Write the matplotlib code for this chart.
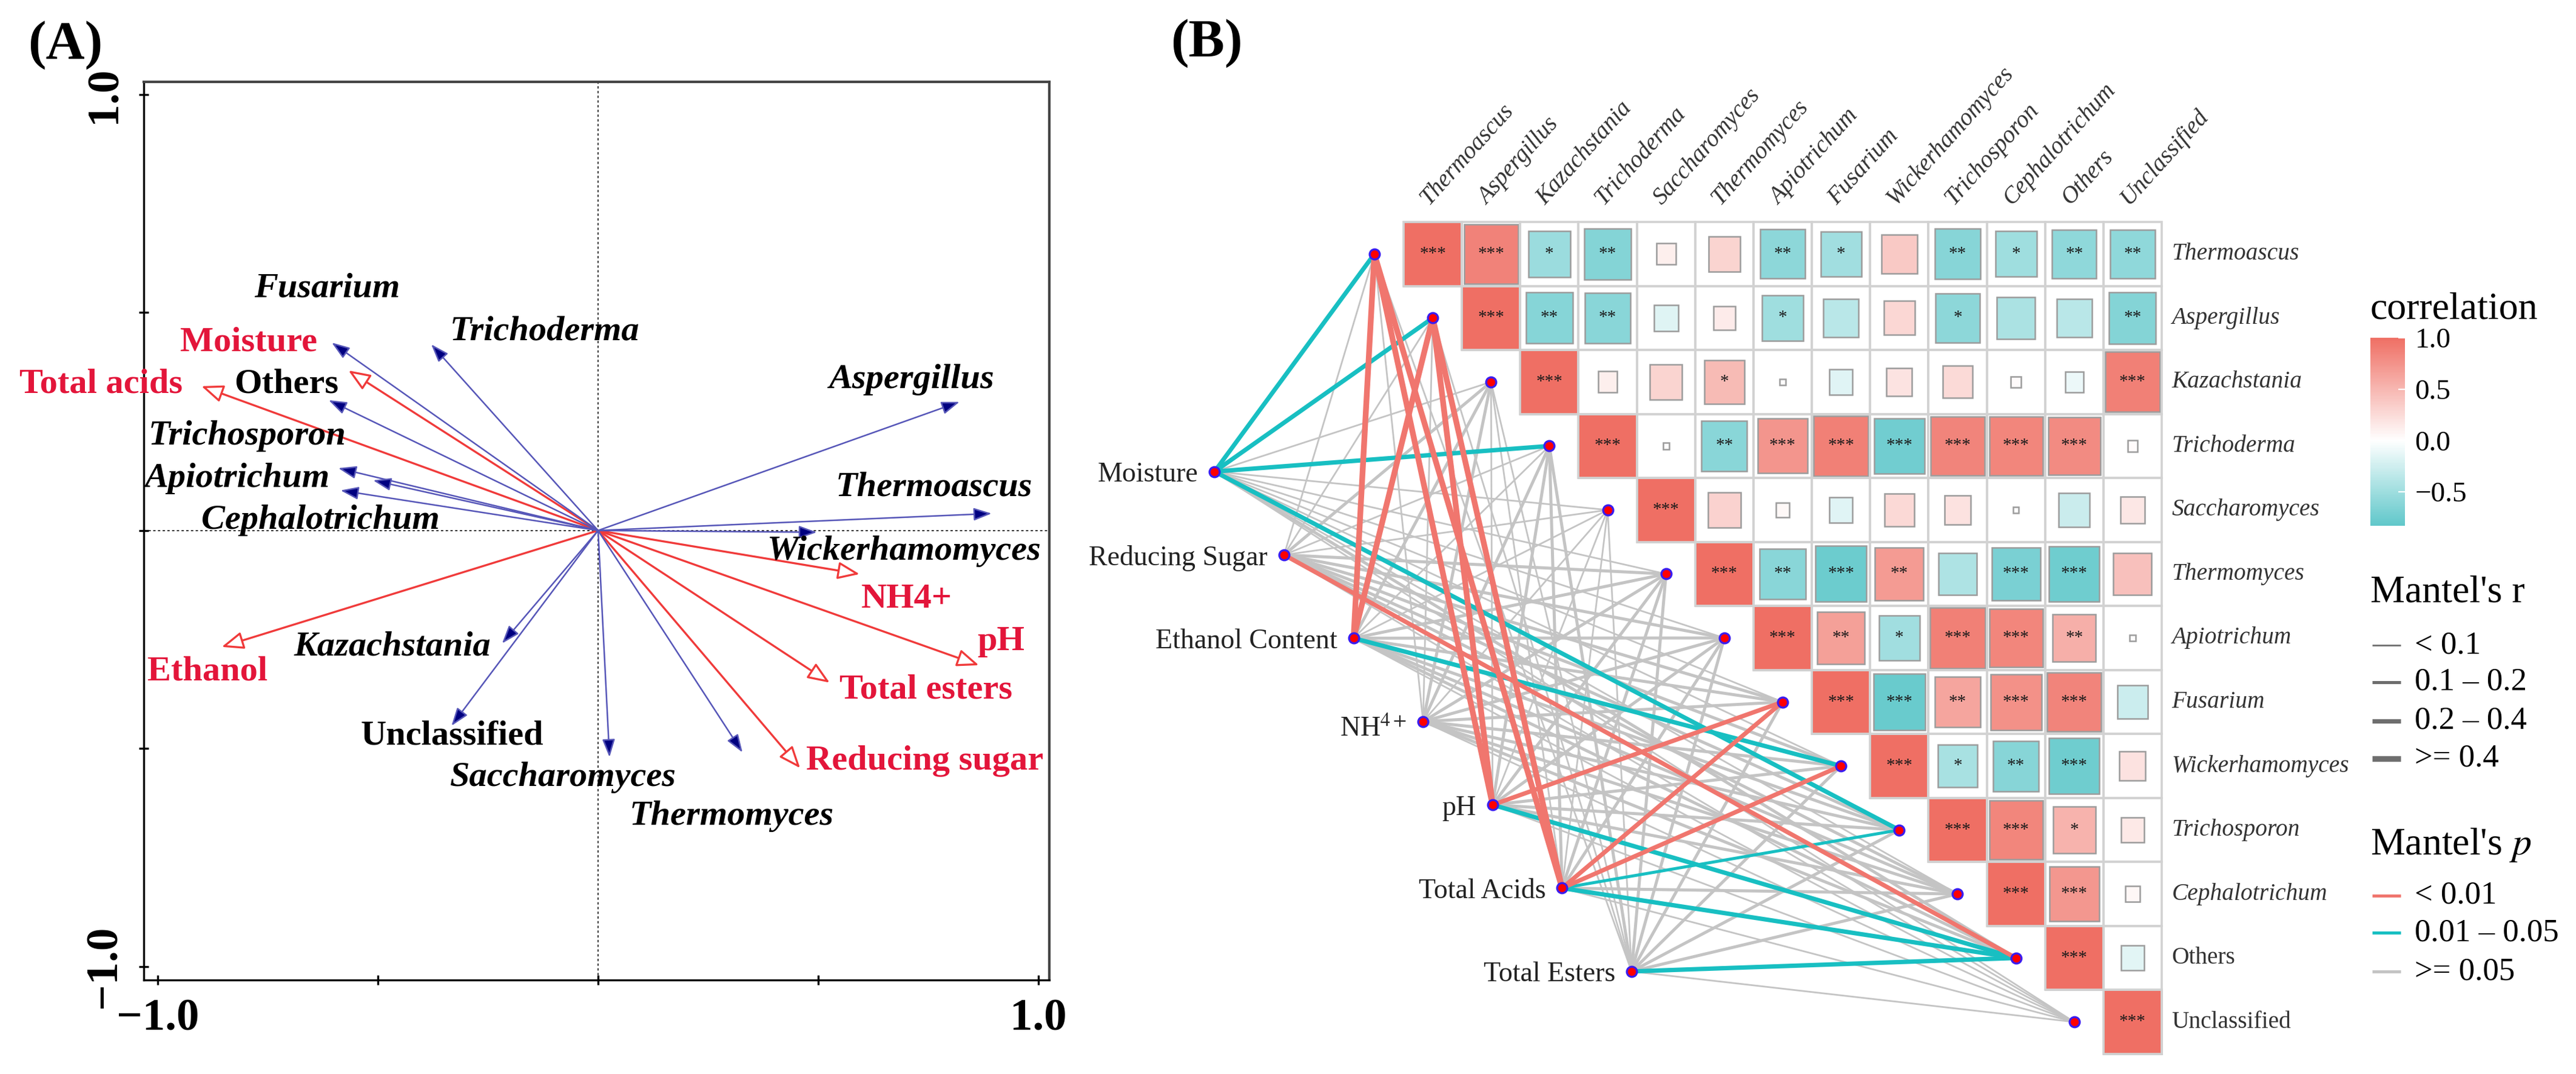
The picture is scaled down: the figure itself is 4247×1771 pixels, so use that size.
import numpy as np
import matplotlib.pyplot as plt
import matplotlib.cm as cm
from matplotlib.colors import LinearSegmentedColormap, Normalize
from matplotlib.patches import Rectangle
from matplotlib.lines import Line2D

plt.rcParams['font.family'] = ['Liberation Serif', 'DejaVu Serif']
plt.rcParams['mathtext.fontset'] = 'stix'

# ---------------- panel A: RDA biplot loadings ----------------
species = ['Fusarium', 'Trichoderma', 'Others', 'Trichosporon', 'Apiotrichum',
           'Cephalotrichum', 'Aspergillus', 'Thermoascus', 'Wickerhamomyces',
           'Thermomyces', 'Saccharomyces', 'Unclassified', 'Kazachstania']
species_rda1 = [-0.605, -0.379, -0.612, -0.590, -0.511, -0.585, 0.821, 0.894,
                0.497, 0.328, 0.026, -0.333, -0.218]
species_rda2 = [0.431, 0.427, 0.299, 0.143, 0.115, 0.092, 0.295, 0.039,
                -0.004, -0.509, -0.520, -0.448, -0.259]

env_vars = ['Moisture', 'Total acids', 'Ethanol', 'NH4+', 'pH', 'Total esters',
            'Reducing sugar']
env_rda1 = [-0.567, -0.901, -0.855, 0.594, 0.865, 0.526, 0.459]
env_rda2 = [0.367, 0.331, -0.267, -0.100, -0.309, -0.349, -0.545]

# ---------------- panel B: correlation heatmap + Mantel test ----------------
taxa = ['Thermoascus', 'Aspergillus', 'Kazachstania', 'Trichoderma',
        'Saccharomyces', 'Thermomyces', 'Apiotrichum', 'Fusarium',
        'Wickerhamomyces', 'Trichosporon', 'Cephalotrichum', 'Others',
        'Unclassified']

# upper triangle rows (row i holds columns i..12)
corr_upper = [
    [1.00, 0.86, -0.52, -0.64, 0.11, 0.30, -0.59, -0.49, 0.37, -0.62, -0.50, -0.58, -0.58],
    [1.00, -0.63, -0.61, -0.17, 0.14, -0.50, -0.36, 0.28, -0.59, -0.43, -0.36, -0.64],
    [1.00, 0.11, 0.30, 0.47, 0.01, -0.16, 0.19, 0.25, 0.03, -0.10, 0.88],
    [1.00, 0.01, -0.61, 0.73, 0.88, -0.74, 0.85, 0.84, 0.80, 0.03],
    [1.00, 0.31, 0.05, -0.16, 0.26, 0.20, 0.01, -0.28, 0.17],
    [1.00, -0.61, -0.76, 0.69, -0.42, -0.69, -0.75, 0.43],
    [1.00, 0.66, -0.49, 0.88, 0.84, 0.55, 0.01],
    [1.00, -0.78, 0.62, 0.76, 0.85, -0.27],
    [1.00, -0.45, -0.62, -0.75, 0.20],
    [1.00, 0.84, 0.53, 0.15],
    [1.00, 0.72, 0.06],
    [1.00, -0.15],
    [1.00],
]
stars_upper = [
    ['***', '***', '*', '**', '', '', '**', '*', '', '**', '*', '**', '**'],
    ['***', '**', '**', '', '', '*', '', '', '*', '', '', '**'],
    ['***', '', '', '*', '', '', '', '', '', '', '***'],
    ['***', '', '**', '***', '***', '***', '***', '***', '***', ''],
    ['***', '', '', '', '', '', '', '', ''],
    ['***', '**', '***', '**', '', '***', '***', ''],
    ['***', '**', '*', '***', '***', '**', ''],
    ['***', '***', '**', '***', '***', ''],
    ['***', '*', '**', '***', ''],
    ['***', '***', '*', ''],
    ['***', '***', ''],
    ['***', ''],
    ['***'],
]

mantel_env = ['Moisture', 'Reducing Sugar', 'Ethanol Content', 'NH$^{4+}$', 'pH',
              'Total Acids', 'Total Esters']
# rows: env factors, columns: taxa (same order as `taxa`)
mantel_r = [
    [0.28, 0.26, 0.08, 0.24, 0.05, 0.09, 0.07, 0.08, 0.06, 0.21, 0.07, 0.12, 0.04],
    [0.06, 0.08, 0.12, 0.09, 0.05, 0.11, 0.13, 0.14, 0.12, 0.15, 0.13, 0.22, 0.07],
    [0.46, 0.44, 0.11, 0.09, 0.06, 0.13, 0.14, 0.12, 0.31, 0.15, 0.12, 0.14, 0.08],
    [0.07, 0.08, 0.12, 0.14, 0.05, 0.15, 0.13, 0.16, 0.13, 0.15, 0.12, 0.14, 0.06],
    [0.48, 0.45, 0.08, 0.13, 0.06, 0.14, 0.12, 0.27, 0.15, 0.16, 0.13, 0.26, 0.07],
    [0.47, 0.45, 0.09, 0.12, 0.07, 0.13, 0.12, 0.26, 0.25, 0.18, 0.14, 0.22, 0.08],
    [0.09, 0.07, 0.06, 0.12, 0.05, 0.13, 0.11, 0.14, 0.13, 0.12, 0.14, 0.27, 0.06],
]
mantel_p = [
    [0.03, 0.02, 0.40, 0.02, 0.70, 0.30, 0.50, 0.40, 0.60, 0.04, 0.50, 0.20, 0.80],
    [0.60, 0.50, 0.20, 0.30, 0.70, 0.20, 0.20, 0.10, 0.20, 0.10, 0.20, 0.008, 0.50],
    [0.001, 0.002, 0.30, 0.40, 0.60, 0.20, 0.10, 0.20, 0.02, 0.10, 0.20, 0.10, 0.50],
    [0.50, 0.40, 0.20, 0.10, 0.70, 0.10, 0.20, 0.10, 0.20, 0.10, 0.20, 0.10, 0.60],
    [0.001, 0.001, 0.40, 0.10, 0.60, 0.10, 0.20, 0.005, 0.10, 0.10, 0.20, 0.03, 0.50],
    [0.001, 0.001, 0.40, 0.20, 0.50, 0.20, 0.20, 0.006, 0.008, 0.04, 0.10, 0.02, 0.50],
    [0.40, 0.50, 0.60, 0.20, 0.70, 0.20, 0.30, 0.10, 0.20, 0.20, 0.10, 0.03, 0.60],
]

r_labels = ['< 0.1', '0.1 \u2013 0.2', '0.2 \u2013 0.4', '>= 0.4']
p_labels = ['< 0.01', '0.01 \u2013 0.05', '>= 0.05']

# ---------------- layout / style ----------------
W, H = 4247, 1771
fig = plt.figure(figsize=(W / 200, H / 200), dpi=200)


def fx(px):
    return px / W


def fy(py):
    return 1 - py / H


# text placement of the biplot labels, relative to the arrow tips
label_offset = {
    'Fusarium': (-0.01, 0.124), 'Trichoderma': (0.258, 0.029), 'Others': (-0.096, 0.036),
    'Trichosporon': (-0.207, 0.073), 'Apiotrichum': (-0.309, 0.005),
    'Cephalotrichum': (-0.046, -0.068), 'Aspergillus': (-0.11, 0.051),
    'Thermoascus': (-0.131, 0.06), 'Wickerhamomyces': (0.199, -0.043),
    'Thermomyces': (-0.024, -0.146), 'Saccharomyces': (-0.106, -0.046),
    'Unclassified': (0.001, -0.023), 'Kazachstania': (-0.249, -0.008),
    'Moisture': (-0.226, 0.064), 'Total acids': (-0.228, 0.004),
    'Ethanol': (-0.032, -0.057), 'NH4+': (0.107, -0.057), 'pH': (0.05, 0.054),
    'Total esters': (0.218, -0.017), 'Reducing sugar': (0.283, 0.016),
}

navy = '#000080'
env_red = '#f03a3a'
env_text = '#e3153a'
upright = ('Others', 'Unclassified')

# ---------------- panel A ----------------
ax = fig.add_axes([fx(237), fy(1616), fx(1730) - fx(237), fy(135) - fy(1616)])
ax.set_xlim(-1.032, 1.025)
ax.set_ylim(-1.031, 1.029)
ax.axhline(0, color='#333333', lw=0.7, ls=(0, (2, 2)), zorder=1)
ax.axvline(0, color='#333333', lw=0.7, ls=(0, (2, 2)), zorder=1)

for name, x, y in zip(env_vars, env_rda1, env_rda2):
    ax.annotate('', xy=(x, y), xytext=(0, 0),
                arrowprops=dict(arrowstyle='-|>,head_length=0.55,head_width=0.22',
                                mutation_scale=20, fc='white', ec=env_red, lw=1.2,
                                shrinkA=0, shrinkB=0), zorder=3)
    dx, dy = label_offset[name]
    ax.text(x + dx, y + dy, name, ha='center', va='center', fontsize=21,
            fontweight='bold', color=env_text, zorder=4)

for name, x, y in zip(species, species_rda1, species_rda2):
    ax.annotate('', xy=(x, y), xytext=(0, 0),
                arrowprops=dict(arrowstyle='-|>,head_length=0.45,head_width=0.16',
                                mutation_scale=20, fc=navy, ec='#5656b8', lw=0.9,
                                shrinkA=0, shrinkB=0), zorder=3)
    dx, dy = label_offset[name]
    style = 'normal' if name in upright else 'italic'
    ax.text(x + dx, y + dy, name, ha='center', va='center', fontsize=21,
            fontweight='bold', fontstyle=style, color='black', zorder=4)

ax.set_xticks([-1, -0.5, 0, 0.5, 1])
ax.set_xticklabels(['\u22121.0', '', '', '', '1.0'])
ax.set_yticks([-1, -0.5, 0, 0.5, 1])
ax.set_yticklabels(['\u22121.0', '', '', '', '1.0'], rotation=90, va='center')
ax.tick_params(direction='inout', length=6, width=1.2, labelsize=27, pad=8)
for lab in ax.get_xticklabels() + ax.get_yticklabels():
    lab.set_fontweight('bold')
for side in ['left', 'bottom']:
    ax.spines[side].set_linewidth(1.2)
    ax.spines[side].set_color('black')
for side in ['top', 'right']:
    ax.spines[side].set_linewidth(1.5)
    ax.spines[side].set_color('#444444')

fig.text(fx(108), fy(75), '(A)', fontsize=32, fontweight='bold', ha='center', va='center')
fig.text(fx(1989), fy(72), '(B)', fontsize=32, fontweight='bold', ha='center', va='center')

# ---------------- panel B ----------------
n = len(taxa)
axb = fig.add_axes([fx(2314), fy(1738), 1250 / W, 1372 / H])
axb.set_xlim(0, n)
axb.set_ylim(n, 0)
axb.axis('off')

cmap = LinearSegmentedColormap.from_list('corr', ['#3fbcbf', '#ffffff', '#ef6f64'])
norm = Normalize(-1, 1)

for i in range(n):
    for k, r in enumerate(corr_upper[i]):
        j = i + k
        axb.add_patch(Rectangle((j, i), 1, 1, fc='white', ec='none', zorder=2, clip_on=False))
        s = np.sqrt(abs(r))
        axb.add_patch(Rectangle((j + 0.5 - s / 2, i + 0.5 - s / 2), s, s,
                                fc=cmap(norm(r)), ec='#9c9c9c', lw=0.9, zorder=3, clip_on=False))
        axb.add_patch(Rectangle((j, i), 1, 1, fc='none', ec='#d2d2d2', lw=1.3, zorder=4, clip_on=False))
        if stars_upper[i][k]:
            axb.text(j + 0.5, i + 0.5, stars_upper[i][k], ha='center', va='center',
                     fontsize=10.5, color='#1a1a1a', zorder=5)

for i, name in enumerate(taxa):
    axb.text(n + 0.17, i + 0.5, name, ha='left', va='center', fontsize=14.2,
             fontstyle='normal' if name in upright else 'italic', color='#333333')
    axb.text(i + 0.5, -0.2, name, ha='left', va='bottom', fontsize=14.2,
             fontstyle='italic', color='#333333', rotation=48, rotation_mode='anchor')

# Mantel network
env_x = np.linspace(-3.24, 3.91, len(mantel_env))
env_y = np.linspace(3.90, 11.71, len(mantel_env))
sp_x = np.arange(n) - 0.5
sp_y = np.arange(n) + 0.5

r_bins = [0.1, 0.2, 0.4]
r_widths = [1.0, 1.8, 2.6, 3.4]
p_colors = ['#f0766e', '#18bfc2', '#c4c4c4']


def p_class(p):
    if p < 0.01:
        return 0
    if p < 0.05:
        return 1
    return 2


edges = []
for e in range(len(mantel_env)):
    for s in range(n):
        pc = p_class(mantel_p[e][s])
        rc = int(np.digitize(mantel_r[e][s], r_bins))
        edges.append((pc, rc, e, s))
# draw non-significant first, then 0.01-0.05, then < 0.01 on top
for pc, rc, e, s in sorted(edges, key=lambda t: -t[0]):
    axb.plot([env_x[e], sp_x[s]], [env_y[e], sp_y[s]], color=p_colors[pc],
             lw=r_widths[rc], solid_capstyle='butt', zorder=1 + (2 - pc) * 0.1,
             clip_on=False)

axb.plot(env_x, env_y, 'o', ms=6, mfc='#ff0000', mec='#3a1cf0', mew=1.2,
         zorder=6, clip_on=False)
axb.plot(sp_x, sp_y, 'o', ms=6, mfc='#ff0000', mec='#3a1cf0', mew=1.2,
         zorder=6, clip_on=False)
for e, name in enumerate(mantel_env):
    dy = 0.12 if name.startswith('NH') else 0.05
    axb.text(env_x[e] - 0.28, env_y[e] + dy, name, ha='right', va='center',
             fontsize=16.5, color='#222222')

# colorbar
cax = fig.add_axes([fx(3908), fy(867), 57 / W, 310 / H])
sm = cm.ScalarMappable(norm=norm, cmap=cmap)
cb = fig.colorbar(sm, cax=cax, boundaries=np.linspace(-0.83, 1.0, 300))
cb.outline.set_visible(False)
cb.set_ticks([-0.5, 0.0, 0.5, 1.0])
cb.set_ticklabels(['\u22120.5', '0.0', '0.5', '1.0'])
cax.tick_params(length=4, width=0.8, colors='white', direction='in', labelsize=17,
                labelcolor='black', pad=6)
fig.text(fx(3908), fy(510), 'correlation', fontsize=23, ha='left', va='center')

# Mantel's r legend
fig.text(fx(3908), fy(978), "Mantel's r", fontsize=23, ha='left', va='center')
for lab, w, py in zip(r_labels, r_widths, [1064, 1125, 1189, 1251]):
    fig.add_artist(Line2D([fx(3911), fx(3958)], [fy(py), fy(py)], transform=fig.transFigure,
                          lw=w, color='#6e6e6e', solid_capstyle='butt'))
    fig.text(fx(3981), fy(py), lab, fontsize=19, ha='left', va='center')

# Mantel's p legend
fig.text(fx(3908), fy(1393), "Mantel's $p$", fontsize=23, ha='left', va='center')
for lab, c, py in zip(p_labels, p_colors, [1477, 1538, 1602]):
    fig.add_artist(Line2D([fx(3911), fx(3958)], [fy(py), fy(py)], transform=fig.transFigure,
                          lw=1.8, color=c, solid_capstyle='butt'))
    fig.text(fx(3981), fy(py), lab, fontsize=19, ha='left', va='center')

fig.savefig('out.png', dpi=200, facecolor='white')
